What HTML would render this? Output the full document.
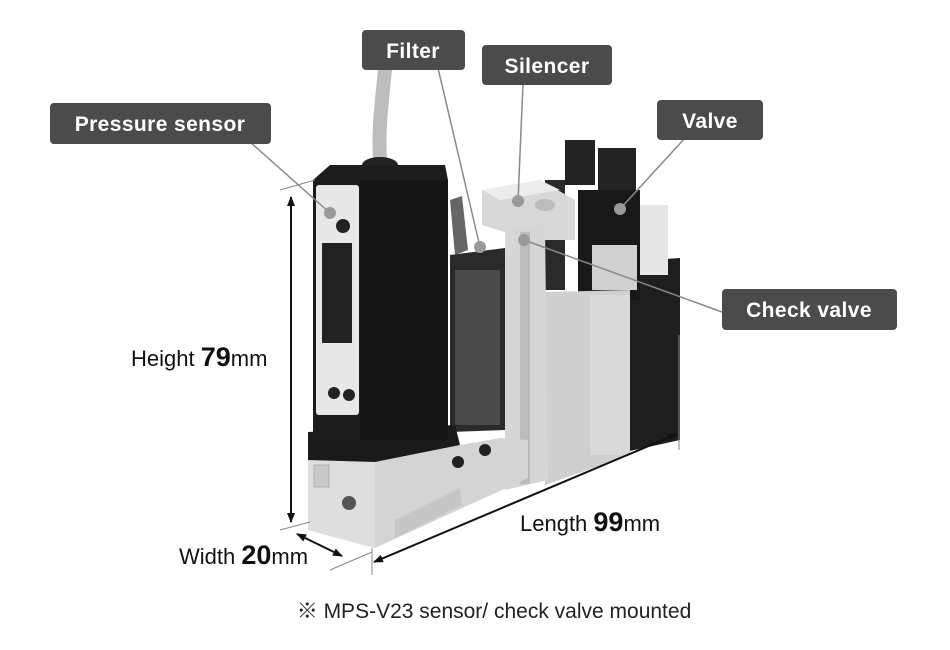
<!DOCTYPE html>
<html><head><meta charset="utf-8"><style>
body{margin:0;background:#fff;}
svg{display:block;}
.lb{font-family:"Liberation Sans",sans-serif;font-weight:bold;font-size:21px;fill:#fff;letter-spacing:0.4px;}
.dm{font-family:"Liberation Sans",sans-serif;font-size:22px;fill:#111;}
</style></head><body>
<svg width="950" height="650" viewBox="0 0 950 650" xmlns="http://www.w3.org/2000/svg">
<defs>
<marker id="ah" markerWidth="10" markerHeight="10" refX="9" refY="5" orient="auto" markerUnits="userSpaceOnUse"><path d="M0,1 L10,5 L0,9 Z" fill="#111"/></marker>
<marker id="as" markerWidth="10" markerHeight="10" refX="1" refY="5" orient="auto" markerUnits="userSpaceOnUse"><path d="M10,1 L0,5 L10,9 Z" fill="#111"/></marker>
</defs>
<path d="M386,60 C382,100 378,130 380,160" stroke="#bdbdbd" stroke-width="14" fill="none"/>
<ellipse cx="380" cy="165" rx="18" ry="8" fill="#222"/>
<polygon points="625,262 680,258 680,440 625,452" fill="#1e1e1e"/>
<rect x="640" y="205" width="28" height="70" fill="#e6e6e6"/>
<rect x="565" y="140" width="30" height="45" fill="#222"/>
<rect x="598" y="148" width="38" height="42" fill="#222"/>
<rect x="545" y="180" width="20" height="110" fill="#2a2a2a"/>
<rect x="578" y="190" width="62" height="110" fill="#181818"/>
<rect x="592" y="245" width="45" height="45" fill="#d0d0d0"/>
<polygon points="545,292 630,290 630,455 545,485" fill="#cfcfcf"/>
<rect x="590" y="295" width="40" height="160" fill="#dadada"/>
<polygon points="482,190 540,180 575,200 575,240 530,240 482,225" fill="#d8d8d8"/>
<polygon points="482,190 540,180 560,190 500,200" fill="#ececec"/>
<ellipse cx="545" cy="205" rx="10" ry="6" fill="#bbb"/>
<polygon points="505,230 545,225 548,480 505,490" fill="#d6d6d6"/>
<rect x="520" y="232" width="10" height="252" fill="#bcbcbc"/>
<polygon points="450,255 505,248 505,430 450,432" fill="#2a2a2a"/>
<rect x="455" y="270" width="45" height="155" fill="#4a4a4a"/>
<path d="M450,200 L462,196 L468,250 L455,255 Z" fill="#666"/>
<polygon points="308,460 375,460 500,438 528,440 528,478 375,548 308,530" fill="#d4d4d4"/>
<polygon points="308,460 375,460 375,548 308,530" fill="#dedede"/>
<polygon points="308,432 455,425 460,445 375,462 308,460" fill="#1a1a1a"/>
<circle cx="458" cy="462" r="6" fill="#222"/><circle cx="485" cy="450" r="6" fill="#222"/>
<circle cx="349" cy="503" r="7" fill="#555"/>
<rect x="314" y="465" width="15" height="22" fill="#c8c8c8" stroke="#b0b0b0"/>
<polygon points="395,520 460,488 462,505 395,538" fill="#c6c6c6"/>
<polygon points="313,180 330,165 445,165 448,180 448,440 313,440" fill="#1c1c1c"/>
<rect x="316" y="185" width="43" height="230" rx="3" fill="#e8e8e8"/>
<rect x="322" y="243" width="30" height="100" fill="#222"/>
<circle cx="343" cy="226" r="7" fill="#222"/><circle cx="334" cy="393" r="6" fill="#222"/><circle cx="349" cy="395" r="6" fill="#222"/>
<rect x="360" y="180" width="88" height="260" fill="#161616"/>
<g stroke="#8a8a8a" stroke-width="1.5" fill="none">
<line x1="250" y1="142" x2="330" y2="213"/>
<line x1="438" y1="68" x2="480" y2="247"/>
<line x1="523" y1="84" x2="518" y2="201"/>
<line x1="685" y1="138" x2="620" y2="209"/>
<line x1="722" y1="312" x2="524" y2="240"/>
</g>
<g fill="#9a9a9a"><circle cx="330" cy="213" r="6"/><circle cx="480" cy="247" r="6"/><circle cx="518" cy="201" r="6"/><circle cx="620" cy="209" r="6"/><circle cx="524" cy="240" r="6"/></g>
<rect x="50" y="103" width="221" height="41" rx="4" fill="#4b4b4b"/>
<text class="lb" x="160" y="131" text-anchor="middle">Pressure sensor</text>
<rect x="362" y="30" width="103" height="40" rx="4" fill="#4b4b4b"/>
<text class="lb" x="413" y="58" text-anchor="middle">Filter</text>
<rect x="482" y="45" width="130" height="40" rx="4" fill="#4b4b4b"/>
<text class="lb" x="547" y="73" text-anchor="middle">Silencer</text>
<rect x="657" y="100" width="106" height="40" rx="4" fill="#4b4b4b"/>
<text class="lb" x="710" y="128" text-anchor="middle">Valve</text>
<rect x="722" y="289" width="175" height="41" rx="4" fill="#4b4b4b"/>
<text class="lb" x="809" y="317" text-anchor="middle">Check valve</text>
<g stroke="#111" stroke-width="2" fill="none">
<line x1="291" y1="197" x2="291" y2="522" marker-start="url(#as)" marker-end="url(#ah)"/>
<line x1="297" y1="534" x2="342" y2="556" marker-start="url(#as)" marker-end="url(#ah)"/>
<line x1="374" y1="562" x2="677" y2="434" marker-start="url(#as)" marker-end="url(#ah)"/>
</g>
<g stroke="#888" stroke-width="1" fill="none">
<line x1="280" y1="190" x2="315" y2="180"/>
<line x1="280" y1="530" x2="310" y2="522"/>
<line x1="330" y1="570" x2="372" y2="552"/>
<line x1="372" y1="548" x2="372" y2="575"/>
<line x1="679" y1="335" x2="679" y2="450"/>
</g>
<text class="dm" x="131" y="366">Height <tspan font-weight="bold" font-size="27">79</tspan>mm</text>
<text class="dm" x="179" y="564">Width <tspan font-weight="bold" font-size="27">20</tspan>mm</text>
<text class="dm" x="520" y="531">Length <tspan font-weight="bold" font-size="27">99</tspan>mm</text>
<text x="494" y="618" text-anchor="middle" style="font-family:'Liberation Sans','Noto Sans CJK JP',sans-serif;font-size:21px;fill:#222">※ MPS-V23 sensor/ check valve mounted</text>
</svg>
</body></html>
